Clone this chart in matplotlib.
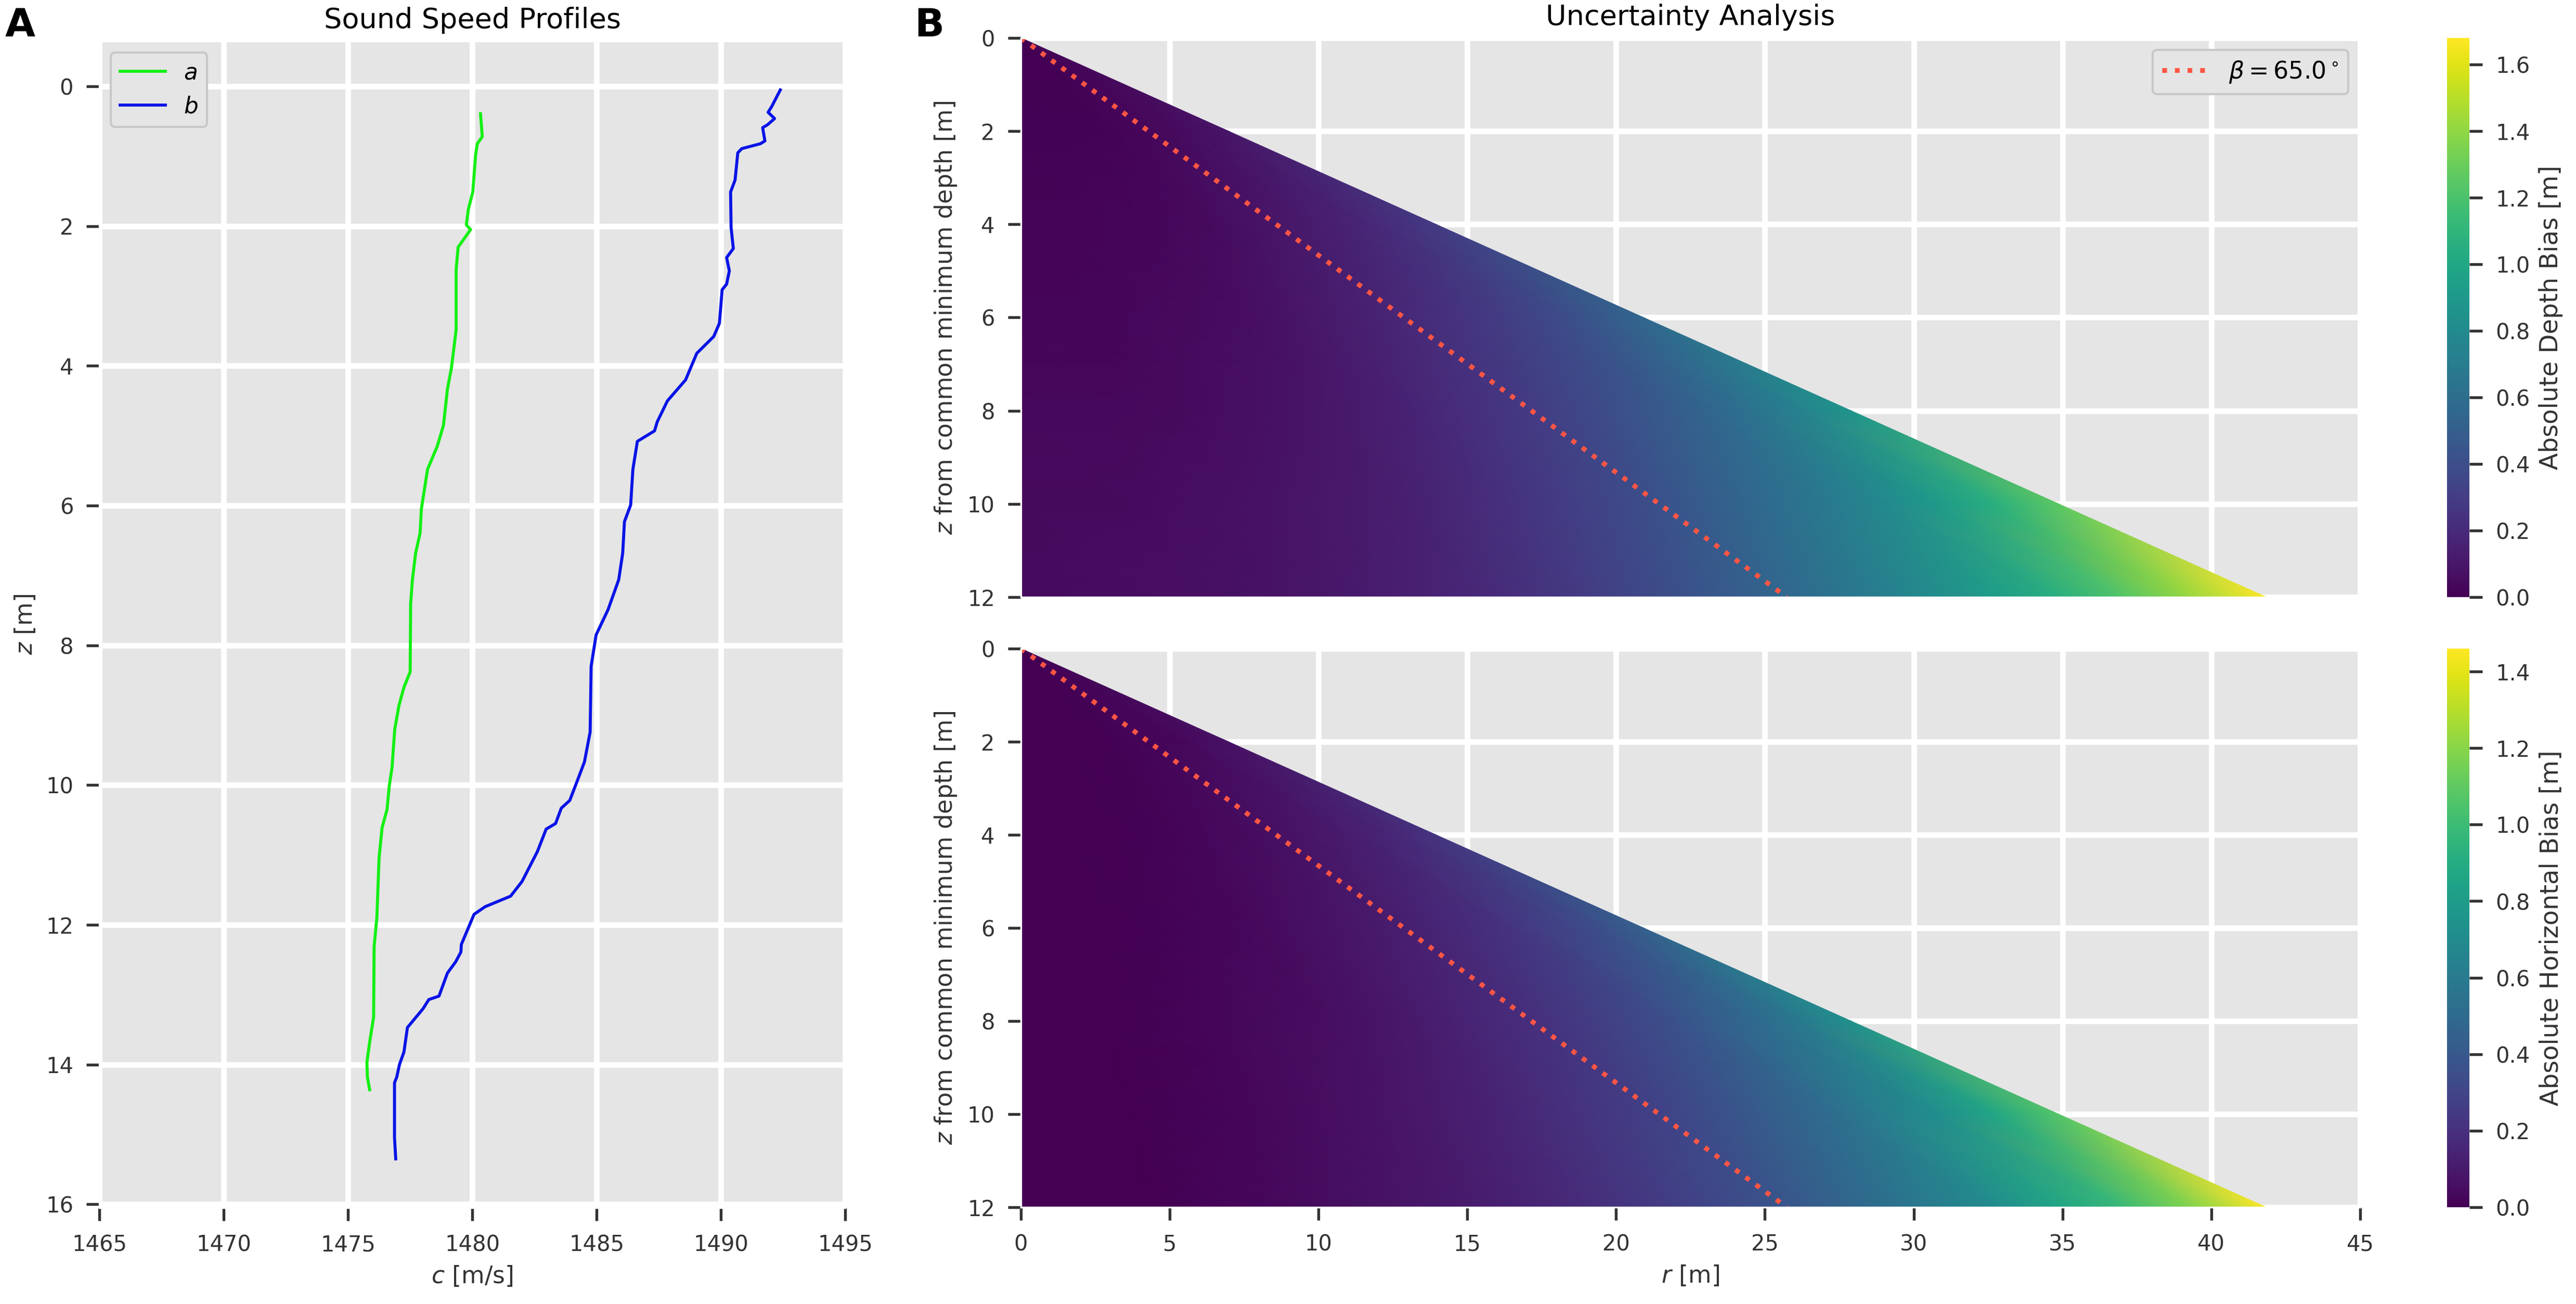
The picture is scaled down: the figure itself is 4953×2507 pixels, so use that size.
import matplotlib
matplotlib.use('Agg')
import matplotlib.pyplot as plt
import numpy as np

# ---------------- sound speed profiles ----------------
a_c = [1480.33, 1480.4, 1480.2, 1480.13, 1480.02, 1479.84, 1479.76, 1479.93, 1479.43, 1479.35,
       1479.35, 1479.16, 1479.0, 1478.84, 1478.59, 1478.2, 1478.09, 1477.95, 1477.9, 1477.72,
       1477.59, 1477.52, 1477.5, 1477.25, 1477.05, 1476.88, 1476.77, 1476.66, 1476.57, 1476.37,
       1476.25, 1476.16, 1476.05, 1476.03, 1475.87, 1475.76, 1475.78, 1475.87]
a_z = [0.39, 0.72, 0.82, 0.99, 1.51, 1.76, 1.98, 2.05, 2.30, 2.62,
       3.48, 4.03, 4.33, 4.85, 5.15, 5.48, 5.73, 6.05, 6.39, 6.68,
       7.06, 7.40, 8.38, 8.60, 8.86, 9.2, 9.75, 10.01, 10.35, 10.61,
       11.04, 11.9, 12.31, 13.32, 13.68, 13.97, 14.18, 14.36]

b_c = [1492.39, 1492.04, 1491.9, 1492.16, 1491.87, 1491.68, 1491.77, 1491.59, 1490.84, 1490.68,
       1490.57, 1490.39, 1490.41, 1490.5, 1490.23, 1490.34, 1490.23, 1490.05, 1489.94, 1489.71,
       1489.03, 1488.58, 1487.85, 1487.44, 1487.33, 1486.64, 1486.46, 1486.37, 1486.12, 1486.05,
       1485.89, 1485.46, 1484.98, 1484.78, 1484.74, 1484.51, 1484.19, 1483.92, 1483.58, 1483.35,
       1482.97, 1482.62, 1482.0, 1481.54, 1480.52, 1480.07, 1479.56, 1479.54, 1479.33, 1479.0,
       1478.66, 1478.25, 1478.02, 1477.39, 1477.25, 1477.07, 1476.96, 1476.87, 1476.87, 1476.92]
b_z = [0.05, 0.29, 0.37, 0.46, 0.55, 0.59, 0.78, 0.82, 0.89, 0.95,
       1.34, 1.51, 2.02, 2.32, 2.45, 2.64, 2.83, 2.91, 3.39, 3.58,
       3.82, 4.20, 4.50, 4.80, 4.93, 5.08, 5.48, 5.99, 6.23, 6.68,
       7.06, 7.49, 7.85, 8.30, 9.24, 9.67, 9.97, 10.22, 10.33, 10.55,
       10.63, 10.95, 11.38, 11.59, 11.74, 11.85, 12.28, 12.39, 12.53, 12.69,
       13.02, 13.07, 13.2, 13.47, 13.82, 14.0, 14.18, 14.26, 15.05, 15.35]

# ---------------- uncertainty grid: beam angle x depth ----------------
beam_angle = [0, 20, 35, 45, 52, 58, 62, 65, 68, 70, 71, 72, 73, 74]   # deg from vertical
grid_depth = [0, 2, 4, 6, 8, 10, 12]                                    # m
beta = 65.0

depth_bias = [
    [0.000, 0.000, 0.000, 0.000, 0.000, 0.000, 0.000, 0.000, 0.000, 0.000, 0.000, 0.000, 0.000, 0.000],
    [0.008, 0.008, 0.008, 0.010, 0.011, 0.017, 0.024, 0.032, 0.043, 0.053, 0.060, 0.069, 0.081, 0.096],
    [0.017, 0.016, 0.020, 0.026, 0.033, 0.052, 0.074, 0.097, 0.131, 0.162, 0.183, 0.210, 0.245, 0.290],
    [0.025, 0.026, 0.035, 0.048, 0.063, 0.099, 0.142, 0.185, 0.251, 0.310, 0.350, 0.403, 0.469, 0.554],
    [0.033, 0.037, 0.050, 0.072, 0.099, 0.157, 0.225, 0.293, 0.397, 0.492, 0.554, 0.638, 0.743, 0.879],
    [0.042, 0.048, 0.067, 0.100, 0.142, 0.224, 0.321, 0.418, 0.568, 0.702, 0.792, 0.911, 1.061, 1.255],
    [0.050, 0.060, 0.085, 0.130, 0.190, 0.300, 0.430, 0.560, 0.760, 0.940, 1.060, 1.220, 1.420, 1.680],
]
horiz_bias = [
    [0, 0.000, 0.000, 0.000, 0.000, 0.000, 0.000, 0.000, 0.000, 0.000, 0.000, 0.000, 0.000, 0.000],
    [0, 0.000, 0.001, 0.003, 0.005, 0.009, 0.014, 0.019, 0.027, 0.034, 0.041, 0.047, 0.056, 0.069],
    [0, 0.001, 0.005, 0.011, 0.017, 0.029, 0.045, 0.060, 0.087, 0.111, 0.133, 0.151, 0.182, 0.226],
    [0, 0.002, 0.009, 0.022, 0.034, 0.059, 0.089, 0.120, 0.172, 0.222, 0.265, 0.302, 0.363, 0.450],
    [0, 0.003, 0.015, 0.035, 0.055, 0.095, 0.146, 0.196, 0.281, 0.361, 0.432, 0.492, 0.592, 0.733],
    [0, 0.004, 0.022, 0.051, 0.081, 0.139, 0.213, 0.286, 0.410, 0.528, 0.630, 0.718, 0.865, 1.070],
    [0, 0.005, 0.030, 0.070, 0.110, 0.190, 0.290, 0.390, 0.560, 0.720, 0.860, 0.980, 1.180, 1.460],
]

plt.rcParams.update({
    'font.family': 'DejaVu Sans',
    'font.size': 10,
    'axes.facecolor': '#E5E5E5',
    'axes.edgecolor': 'white',
    'axes.grid': True,
    'axes.axisbelow': True,
    'grid.color': 'white',
    'grid.linewidth': 2.6,
    'grid.linestyle': '-',
    'axes.labelcolor': '#333333',
    'xtick.color': '#333333',
    'ytick.color': '#333333',
    'xtick.labelsize': 10,
    'ytick.labelsize': 10,
    'xtick.major.size': 6,
    'ytick.major.size': 6,
    'xtick.major.width': 1.3,
    'ytick.major.width': 1.3,
    'xtick.major.pad': 6,
    'ytick.major.pad': 6,
})

fig = plt.figure(figsize=(16.51, 8.357), dpi=300)

# ---------------- A: sound speed profiles ----------------
ax_a = fig.add_axes([0.0386, 0.0738, 0.2895, 0.8947])
ax_a.plot(a_c, a_z, color='#14f014', linewidth=1.4, label='$a$')
ax_a.plot(b_c, b_z, color='#0a14e6', linewidth=1.4, label='$b$')
ax_a.set_xlim(1465, 1495)
ax_a.set_ylim(16.05, -0.65)
ax_a.set_xticks(np.arange(1465, 1496, 5))
ax_a.set_yticks(np.arange(0, 17, 2))
ax_a.set_xlabel('$c$ [m/s]', fontsize=11)
ax_a.set_ylabel('$z$ [m]', fontsize=11)
ax_a.set_title('Sound Speed Profiles', fontsize=13)
ax_a.legend(loc='upper left', facecolor='#E5E5E5', edgecolor='#c8c8c8', framealpha=1, fontsize=10.5)

# ---------------- B: uncertainty analysis ----------------
ang = np.radians(np.array(beam_angle, dtype=float))
dep = np.array(grid_depth, dtype=float)
Z, A = np.meshgrid(dep, ang, indexing='ij')
R = Z * np.tan(A)

ax_t = fig.add_axes([0.3963, 0.5421, 0.5199, 0.4288])
ax_b = fig.add_axes([0.3963, 0.0742, 0.5199, 0.4284])
cax_t = fig.add_axes([0.9499, 0.5421, 0.0087, 0.4288])
cax_b = fig.add_axes([0.9499, 0.0742, 0.0087, 0.4284])

z_line = np.array([0.0, max(grid_depth)])
r_line = z_line * np.tan(np.radians(beta))

for ax, cax, vals, lab in [(ax_t, cax_t, depth_bias, 'Absolute Depth Bias [m]'),
                           (ax_b, cax_b, horiz_bias, 'Absolute Horizontal Bias [m]')]:
    C = np.array(vals)
    mesh = ax.pcolormesh(R, Z, C, shading='gouraud', cmap='viridis', vmin=0, vmax=C.max(),
                         rasterized=True)
    ax.plot(r_line, z_line, linestyle=':', color='#ff5544', linewidth=2.2,
            label=r'$\beta = %.1f^\circ$' % beta)
    ax.set_xlim(0, 45)
    ax.set_ylim(12, 0)
    ax.set_xticks(np.arange(0, 46, 5))
    ax.set_yticks(np.arange(0, 13, 2))
    ax.set_ylabel('$z$ from common minimum depth [m]', fontsize=11)
    cb = fig.colorbar(mesh, cax=cax)
    cb.outline.set_visible(False)
    cb.set_ticks(np.arange(0, C.max() + 0.001, 0.2))
    cb.ax.yaxis.set_major_formatter(matplotlib.ticker.FormatStrFormatter('%.1f'))
    cb.ax.tick_params(length=6, width=1.3, color='#333333', labelsize=10, pad=6)
    cb.set_label(lab, fontsize=11.5, color='#333333')

ax_t.set_title('Uncertainty Analysis', fontsize=13)
ax_t.tick_params(axis='x', labelbottom=False, length=0)
ax_t.legend(loc='upper right', facecolor='#E5E5E5', edgecolor='#c8c8c8', framealpha=1, fontsize=11)
ax_b.set_xlabel('$r$ [m]', fontsize=11)

fig.text(0.002, 0.995, 'A', fontsize=18, fontweight='bold', va='top', ha='left')
fig.text(0.355, 0.995, 'B', fontsize=18, fontweight='bold', va='top', ha='left')

fig.savefig('out.png', dpi=300)
